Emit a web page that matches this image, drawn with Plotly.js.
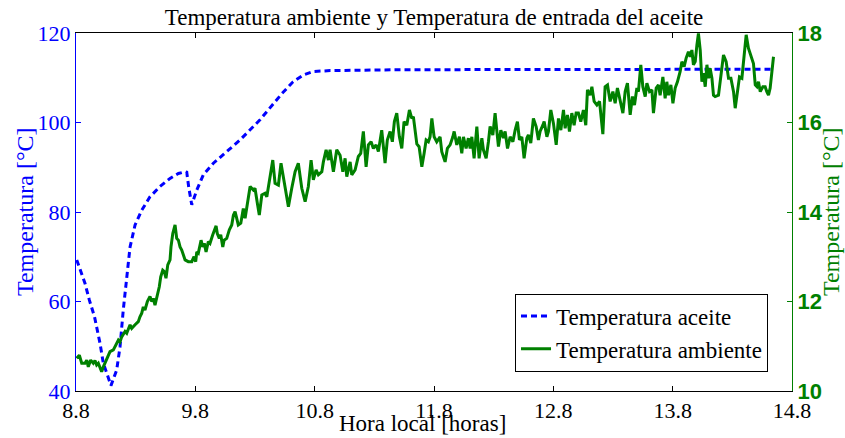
<!DOCTYPE html>
<html>
<head>
<meta charset="utf-8">
<script src="https://cdn.plot.ly/plotly-3.0.1.min.js"></script>
<style>html,body{margin:0;padding:0;background:#fff;}#chart{width:845px;height:438px;}</style>
</head>
<body>
<div id="chart"></div>
<script>
const oilHours = [8.806, 8.875, 8.912, 8.955, 9.001, 9.029, 9.068, 9.093, 9.141, 9.169, 9.196, 9.225, 9.253, 9.295, 9.351, 9.420, 9.504, 9.588, 9.658, 9.714, 9.728, 9.745, 9.770, 9.812, 9.867, 9.951, 10.063, 10.175, 10.342, 10.527, 10.619, 10.703, 10.787, 10.929, 11.5, 12.5, 13.5, 14.645];
const oilTemp = [69.3, 64.1, 60.3, 56.6, 50.7, 46.2, 43.2, 41.2, 44.7, 49.9, 58.1, 65.5, 72.2, 77.1, 80.4, 83.4, 85.7, 87.5, 88.6, 89.0, 88.9, 85.5, 81.6, 84.9, 88.3, 90.9, 93.5, 96.1, 100.6, 106.5, 109.1, 110.6, 111.4, 111.6, 111.8, 111.8, 111.9, 111.9];

const ambHours = [8.806,8.828,8.848,8.875,8.890,8.903,8.923,8.945,8.959,8.973,8.987,9.015,9.029,9.043,9.062,9.085,9.113,9.141,9.155,9.169,9.183,9.211,9.225,9.253,9.267,9.295,9.322,9.336,9.351,9.364,9.378,9.398,9.420,9.435,9.448,9.462,9.481,9.498,9.510,9.527,9.540,9.554,9.569,9.588,9.596,9.611,9.630,9.644,9.658,9.672,9.686,9.714,9.741,9.770,9.789,9.803,9.812,9.825,9.848,9.862,9.875,9.890,9.909,9.923,9.946,9.974,9.984,10.001,10.013,10.030,10.041,10.063,10.085,10.105,10.119,10.133,10.147,10.160,10.181,10.202,10.217,10.231,10.259,10.286,10.300,10.320,10.336,10.357,10.384,10.399,10.420,10.449,10.468,10.496,10.518,10.552,10.580,10.608,10.636,10.663,10.692,10.720,10.747,10.770,10.789,10.812,10.831,10.860,10.873,10.896,10.915,10.929,10.957,10.985,11.013,11.036,11.055,11.069,11.097,11.111,11.139,11.166,11.186,11.208,11.231,11.250,11.273,11.292,11.315,11.334,11.362,11.390,11.409,11.432,11.451,11.468,11.488,11.510,11.530,11.549,11.572,11.594,11.614,11.627,11.656,11.675,11.698,11.717,11.734,11.753,11.767,11.782,11.801,11.823,11.851,11.865,11.893,11.912,11.935,11.958,11.969,11.991,12.013,12.033,12.047,12.069,12.088,12.103,12.117,12.136,12.159,12.178,12.201,12.214,12.237,12.256,12.270,12.293,12.312,12.327,12.340,12.360,12.382,12.396,12.416,12.438,12.461,12.480,12.499,12.516,12.536,12.555,12.578,12.591,12.611,12.633,12.656,12.675,12.689,12.712,12.723,12.746,12.759,12.779,12.801,12.824,12.843,12.863,12.885,12.899,12.918,12.935,12.955,12.974,12.991,13.010,13.030,13.052,13.072,13.086,13.108,13.123,13.142,13.165,13.187,13.215,13.234,13.254,13.276,13.299,13.318,13.337,13.360,13.383,13.402,13.421,13.444,13.463,13.480,13.500,13.513,13.533,13.550,13.570,13.584,13.606,13.626,13.639,13.662,13.681,13.695,13.718,13.737,13.751,13.765,13.785,13.802,13.821,13.840,13.863,13.877,13.896,13.913,13.932,13.947,13.961,13.974,13.989,14.003,14.016,14.031,14.045,14.058,14.073,14.087,14.100,14.114,14.129,14.142,14.156,14.184,14.204,14.226,14.248,14.268,14.288,14.310,14.324,14.343,14.360,14.380,14.399,14.416,14.435,14.455,14.477,14.492,14.506,14.519,14.534,14.556,14.575,14.589,14.603,14.617,14.631,14.645];
const ambTemp = [10.73,10.80,10.62,10.62,10.69,10.54,10.69,10.62,10.68,10.58,10.62,10.43,10.54,10.62,10.73,10.88,10.92,11.07,11.14,11.10,11.21,11.33,11.29,11.48,11.40,11.48,11.55,11.66,11.74,11.88,11.81,12.00,12.11,12.00,12.07,11.92,12.11,12.33,12.55,12.70,12.67,12.52,12.82,12.93,13.22,13.52,13.71,13.41,13.37,13.22,13.15,12.93,12.89,12.89,13.00,12.89,13.11,13.08,13.37,13.22,13.30,13.11,13.34,13.30,13.49,13.69,13.52,13.41,13.49,13.22,13.37,13.41,13.60,13.71,13.93,14.01,13.86,13.71,13.75,14.08,13.86,14.12,14.57,14.49,14.53,14.19,13.93,14.38,14.42,14.34,14.72,15.16,14.64,14.60,15.09,14.60,14.12,14.53,14.90,15.09,14.53,14.23,14.57,15.16,14.72,14.94,14.83,14.90,15.12,15.39,15.16,15.39,14.90,15.39,15.27,14.90,15.20,14.79,15.12,14.83,14.94,15.24,15.31,15.80,15.01,15.50,15.57,15.42,15.50,15.35,15.83,15.09,15.61,15.80,15.57,16.02,16.21,15.68,15.42,16.02,15.94,16.28,16.09,16.13,15.52,15.46,15.01,15.31,15.61,15.57,15.68,16.09,15.68,15.57,15.68,15.35,15.12,15.42,15.50,15.68,15.80,15.50,15.68,15.31,15.68,15.42,15.65,15.42,15.68,15.20,15.91,15.20,15.65,15.39,15.20,15.57,15.91,15.72,16.21,15.80,15.46,15.83,15.65,15.80,15.42,15.68,15.57,15.83,16.02,15.61,15.68,15.20,15.65,15.72,15.54,16.09,15.91,15.61,15.80,15.94,16.02,15.68,15.80,16.28,15.98,15.50,16.09,15.83,16.28,15.87,16.17,15.80,16.21,15.94,16.21,16.21,16.02,16.28,15.94,16.73,16.61,16.80,16.47,16.39,16.47,15.74,16.80,16.84,16.47,16.69,16.43,16.77,16.50,16.21,16.69,16.88,16.17,16.58,16.39,16.77,16.69,17.29,16.80,16.58,16.88,16.69,16.73,16.21,16.77,16.84,16.61,17.02,16.54,16.91,16.61,16.84,16.43,16.77,16.91,17.14,17.36,17.25,17.44,17.58,17.47,17.62,17.29,17.36,17.73,17.99,17.62,16.91,17.10,16.80,17.29,16.99,17.21,16.99,16.61,16.58,16.61,16.99,17.51,17.36,16.99,16.99,16.69,16.32,16.69,17.02,16.99,17.51,17.96,17.66,17.51,17.32,16.84,16.80,16.91,16.69,16.80,16.80,16.69,16.61,16.77,17.21,17.47];

const xTicks = [8.8, 9.8, 10.8, 11.8, 12.8, 13.8, 14.8];
const yLeftTicks = [40, 60, 80, 100, 120];
const yRightTicks = [10, 12, 14, 16, 18];

const serif = '"Liberation Serif", "Times New Roman", serif';
const sans = '"Liberation Sans", Arial, sans-serif';
const BLUE = '#0000ff';
const GREEN = '#008000';

const traces = [
  {x: oilHours, y: oilTemp, type: 'scatter', mode: 'lines', name: 'Temperatura aceite',
   line: {color: BLUE, width: 3, dash: '6px,4px'}, yaxis: 'y'},
  {x: ambHours, y: ambTemp, type: 'scatter', mode: 'lines', name: 'Temperatura ambiente',
   line: {color: GREEN, width: 3}, yaxis: 'y2'}
];

const layout = {
  width: 845, height: 438,
  margin: {l: 76, r: 53, t: 33, b: 47, pad: 0},
  paper_bgcolor: '#fff', plot_bgcolor: '#fff',
  showlegend: true,
  title: {text: 'Temperatura ambiente y Temperatura de entrada del aceite',
          font: {family: serif, size: 23, color: '#000'},
          x: 0.5, xref: 'paper', xanchor: 'center', y: 0.962, yanchor: 'middle'},
  xaxis: {range: [8.8, 14.8], tickvals: xTicks, ticktext: xTicks.map(v => v.toFixed(1)),
          ticks: 'inside', ticklen: 5, tickcolor: '#000', showline: true, linecolor: '#000', linewidth: 1,
          mirror: 'ticks', showgrid: false, zeroline: false, automargin: false,
          tickfont: {family: serif, size: 22, color: '#000'}},
  yaxis: {range: [40, 120], tickvals: yLeftTicks, ticks: 'inside', ticklen: 5, tickcolor: BLUE,
          showline: true, linecolor: BLUE, linewidth: 1, showgrid: false, zeroline: false, automargin: false,
          tickfont: {family: serif, size: 22, color: BLUE}},
  yaxis2: {range: [10, 18], tickvals: yRightTicks, overlaying: 'y', side: 'right', anchor: 'x',
           ticks: 'inside', ticklen: 5, tickcolor: GREEN, showline: true, linecolor: GREEN, linewidth: 1,
           showgrid: false, zeroline: false, automargin: false,
           tickfont: {family: sans, size: 22, color: GREEN, weight: 'bold'}},
  annotations: [
    {text: 'Hora local [horas]', xref: 'paper', yref: 'paper', x: 0.4846, y: -0.092,
     xanchor: 'center', yanchor: 'middle', showarrow: false,
     font: {family: serif, size: 23, color: '#000'}},
    {text: 'Temperatura [°C]', xref: 'paper', yref: 'paper', x: -0.0712, y: 0.5,
     xanchor: 'center', yanchor: 'middle', textangle: -90, showarrow: false,
     font: {family: serif, size: 24, color: BLUE}},
    {text: 'Temperatura [°C]', xref: 'paper', yref: 'paper', x: 1.0545, y: 0.5,
     xanchor: 'center', yanchor: 'middle', textangle: -90, showarrow: false,
     font: {family: serif, size: 24, color: GREEN}}
  ],
  legend: {x: 0.9665, y: 0.1634, xanchor: 'right', yanchor: 'middle', bgcolor: '#fff',
           bordercolor: '#000', borderwidth: 1, itemwidth: 30, tracegroupgap: 0,
           font: {family: serif, size: 23, color: '#000'}}
};

Plotly.newPlot('chart', traces, layout, {staticPlot: true, displayModeBar: false});
</script>
</body>
</html>
